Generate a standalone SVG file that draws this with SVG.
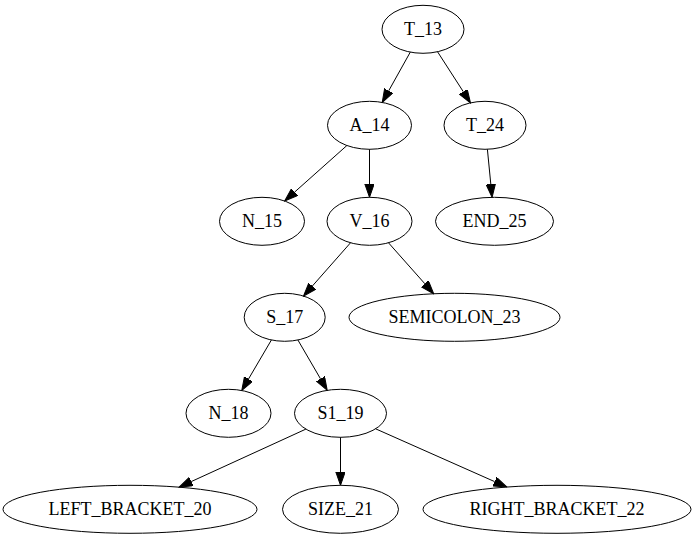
<svg xmlns="http://www.w3.org/2000/svg" width="697" height="539" viewBox="0 0 697 539">
  <style>
    .node ellipse { fill: none; stroke: #000; stroke-width: 1; }
    .node text { font-family: "Liberation Serif", "Times New Roman", serif; font-size: 18px; text-anchor: middle; fill: #000; }
    #edges line { stroke: #000; stroke-width: 1; marker-end: url(#arrow); }
  </style>
  <defs>
    <marker id="arrow" markerUnits="userSpaceOnUse" markerWidth="14" markerHeight="10" refX="0" refY="4.67" orient="auto">
      <path d="M0,0 L13.3,4.67 L0,9.33 Z" fill="#000" stroke="#000" stroke-width="1"/>
    </marker>
  </defs>
  <rect width="697" height="539" fill="#fff"/>

  <g id="edges">
    <line x1="410.3" y1="52.1" x2="388.7" y2="90.8"/>
    <line x1="437.5" y1="51.7" x2="463.3" y2="91.7"/>
    <line x1="346.9" y1="145.5" x2="294.6" y2="192.1"/>
    <line x1="369.5" y1="149.3" x2="369.5" y2="184.0"/>
    <line x1="487.4" y1="149.3" x2="490.8" y2="184.1"/>
    <line x1="350.5" y1="242.8" x2="312.3" y2="286.1"/>
    <line x1="388.5" y1="242.8" x2="424.9" y2="283.8"/>
    <line x1="271.4" y1="340.0" x2="248.5" y2="379.0"/>
    <line x1="297.9" y1="340.0" x2="320.5" y2="378.8"/>
    <line x1="305.9" y1="429.1" x2="191.2" y2="481.6"/>
    <line x1="340.5" y1="437.3" x2="340.5" y2="472.0"/>
    <line x1="375.6" y1="428.8" x2="494.6" y2="481.6"/>
  </g>

  <g id="T_13" class="node"><ellipse cx="423" cy="29.3" rx="41" ry="24"/><text x="423" y="34.9">T_13</text></g>
  <g id="A_14" class="node"><ellipse cx="369.5" cy="125.3" rx="42" ry="24"/><text x="369.5" y="130.9">A_14</text></g>
  <g id="T_24" class="node"><ellipse cx="485" cy="125.3" rx="41" ry="24"/><text x="485" y="130.9">T_24</text></g>
  <g id="N_15" class="node"><ellipse cx="262" cy="221.3" rx="42.5" ry="24"/><text x="262" y="226.9">N_15</text></g>
  <g id="V_16" class="node"><ellipse cx="369.5" cy="221.3" rx="42.5" ry="24"/><text x="369.5" y="226.9">V_16</text></g>
  <g id="END_25" class="node"><ellipse cx="494.5" cy="221.3" rx="59" ry="24"/><text x="494.5" y="226.9">END_25</text></g>
  <g id="S_17" class="node"><ellipse cx="284.7" cy="317.3" rx="40.5" ry="24"/><text x="284.7" y="322.9">S_17</text></g>
  <g id="SEMICOLON_23" class="node"><ellipse cx="454.5" cy="317.3" rx="105.5" ry="24"/><text x="454.5" y="322.9">SEMICOLON_23</text></g>
  <g id="N_18" class="node"><ellipse cx="228.5" cy="413.3" rx="42.5" ry="24"/><text x="228.5" y="418.9">N_18</text></g>
  <g id="S1_19" class="node"><ellipse cx="340.5" cy="413.3" rx="46" ry="24"/><text x="340.5" y="418.9">S1_19</text></g>
  <g id="LEFT_BRACKET_20" class="node"><ellipse cx="130" cy="509.3" rx="127" ry="24"/><text x="130" y="514.9">LEFT_BRACKET_20</text></g>
  <g id="SIZE_21" class="node"><ellipse cx="340.5" cy="509.3" rx="58" ry="24"/><text x="340.5" y="514.9">SIZE_21</text></g>
  <g id="RIGHT_BRACKET_22" class="node"><ellipse cx="557" cy="509.3" rx="134" ry="24"/><text x="557" y="514.9">RIGHT_BRACKET_22</text></g>
</svg>
